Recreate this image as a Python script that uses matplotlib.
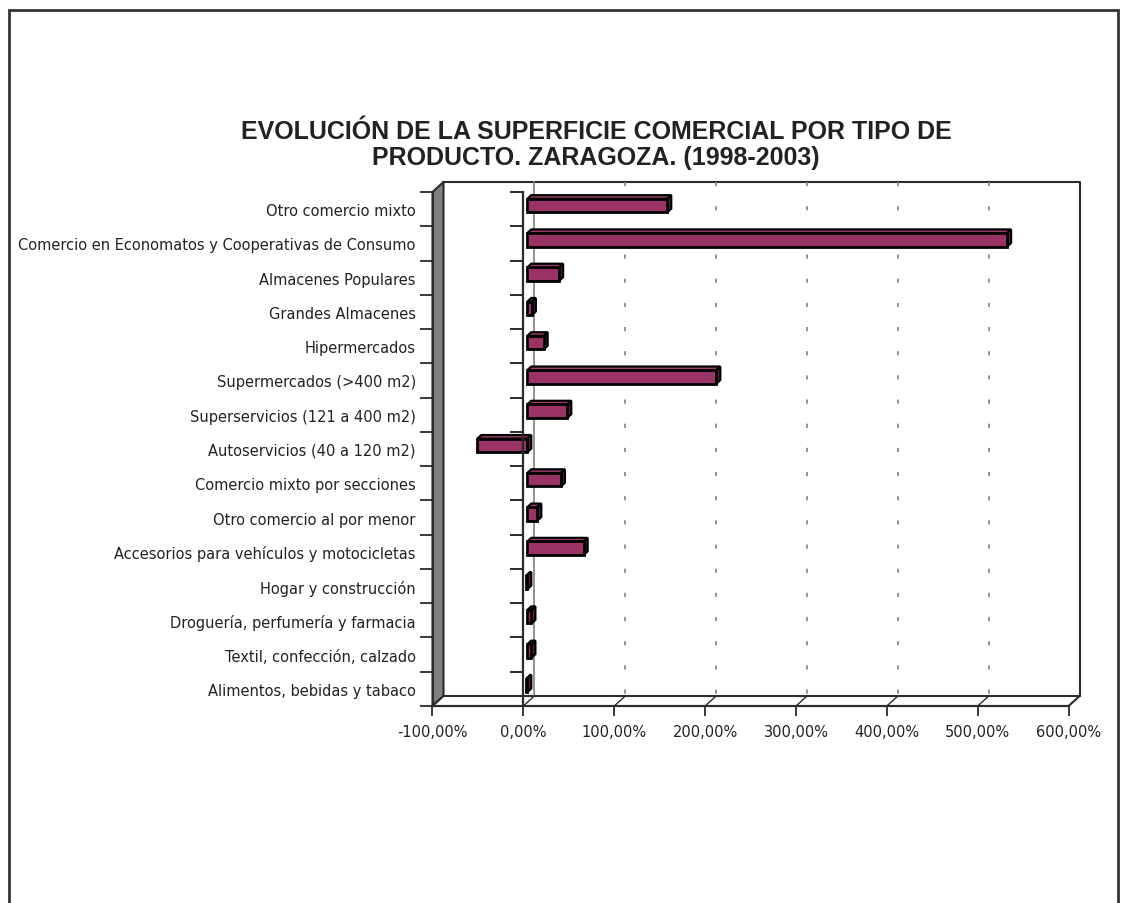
import numpy as np
import matplotlib.pyplot as plt
from matplotlib.patches import Polygon, Rectangle

# Variación de la superficie comercial 1998-2003 (%)
categorias = [
    "Otro comercio mixto",
    "Comercio en Economatos y Cooperativas de Consumo",
    "Almacenes Populares",
    "Grandes Almacenes",
    "Hipermercados",
    "Supermercados (>400 m2)",
    "Superservicios (121 a 400 m2)",
    "Autoservicios (40 a 120 m2)",
    "Comercio mixto por secciones",
    "Otro comercio al por menor",
    "Accesorios para vehículos y motocicletas",
    "Hogar y construcción",
    "Droguería, perfumería y farmacia",
    "Textil, confección, calzado",
    "Alimentos, bebidas y tabaco",
]
variacion = [154, 528, 35, 5, 18, 208, 44, -55, 37, 11, 62, -1.5, 4.5, 4.5, -1]

ticks_x = [-100, 0, 100, 200, 300, 400, 500, 600]
etiquetas_x = ["-100,00%", "0,00%", "100,00%", "200,00%", "300,00%",
               "400,00%", "500,00%", "600,00%"]

titulo = ("EVOLUCIÓN DE LA SUPERFICIE COMERCIAL POR TIPO DE\n"
          "PRODUCTO. ZARAGOZA. (1998-2003)")

COL_FRENTE = "#993366"
COL_TECHO = "#a3406f"
COL_LADO = "#5c1f3d"
COL_PARED = "#808080"
COL_LINEA = "#2b2b2b"

W, H = 1122, 904
fig = plt.figure(figsize=(W / 100, H / 100), dpi=100)

# plano frontal del gráfico 3D (en píxeles)
x0, x1, y0, y1 = 432.5, 1068.6, 193, 707
ax = fig.add_axes([x0 / W, 1 - y1 / H, (x1 - x0) / W, (y1 - y0) / H])
n = len(categorias)
ax.set_xlim(-100, 600)
ax.set_ylim(n - 0.5, -0.5)
pos = np.arange(n)

# profundidad en unidades de datos
ux = 700 / (x1 - x0)
uy = n / (y1 - y0)
dx, dy = 11 * ux, -10 * uy
arriba, abajo = -0.5, n - 0.5

# pared izquierda
ax.add_patch(Polygon([(-100, arriba), (-100, abajo), (-100 + dx, abajo + dy),
                      (-100 + dx, arriba + dy)], closed=True,
                     facecolor=COL_PARED, edgecolor=COL_LINEA, lw=1.5,
                     clip_on=False, zorder=1))
# suelo
ax.add_patch(Polygon([(-100, abajo), (600, abajo), (600 + dx, abajo + dy),
                      (-100 + dx, abajo + dy)], closed=True,
                     facecolor="white", edgecolor=COL_LINEA, lw=1.5,
                     clip_on=False, zorder=1))
# pared del fondo
ax.plot([-100 + dx, 600 + dx, 600 + dx], [arriba + dy, arriba + dy, abajo + dy],
        color=COL_LINEA, lw=1.5, clip_on=False, zorder=1)

# líneas de división en el fondo y en el suelo
for t in ticks_x[1:-1]:
    ls = "-" if t == 0 else (0, (2.5, 12))
    ax.plot([t + dx, t + dx], [arriba + dy, abajo + dy], color=COL_PARED,
            lw=1.2, ls=ls, clip_on=False, zorder=1.5)
    ax.plot([t, t + dx], [abajo, abajo + dy], color=COL_LINEA, lw=1,
            clip_on=False, zorder=1.5)

# barras en 3D: techo y lateral como polígonos, frente con barh
alto = 13.5 * uy
p1, p2 = 0.36, 0.72
bx, by = p1 * dx, p1 * dy
ex, ey = (p2 - p1) * dx, (p2 - p1) * dy
for y, v in zip(pos, variacion):
    izq, der = min(0, v) + bx, max(0, v) + bx
    sup, inf = y - alto / 2 + by, y + alto / 2 + by
    ax.add_patch(Polygon([(izq, sup), (der, sup), (der + ex, sup + ey),
                          (izq + ex, sup + ey)], closed=True,
                         facecolor=COL_TECHO, edgecolor="black", lw=1.6,
                         clip_on=False, zorder=3))
    ax.add_patch(Polygon([(der, sup), (der, inf), (der + ex, inf + ey),
                          (der + ex, sup + ey)], closed=True,
                         facecolor=COL_LADO, edgecolor="black", lw=1.6,
                         clip_on=False, zorder=3))
ax.barh(pos + by, variacion, height=alto, left=bx, color=COL_FRENTE,
        edgecolor="black", lw=2, zorder=4, clip_on=False)

# eje de categorías en 0
limites = np.arange(n + 1) - 0.5
ax.plot([0, 0], [arriba, abajo], color=COL_LINEA, lw=1.6, clip_on=False, zorder=5)
ax.hlines(limites, -13 * ux, 0, color=COL_LINEA, lw=1.4, clip_on=False, zorder=5)

# ejes
for s in ["top", "right"]:
    ax.spines[s].set_visible(False)
ax.spines["left"].set_color(COL_LINEA)
ax.spines["bottom"].set_color(COL_LINEA)
ax.spines["left"].set_linewidth(1.5)
ax.spines["bottom"].set_linewidth(1.5)
ax.set_facecolor("none")

ax.set_yticks(limites)
ax.set_yticklabels([])
ax.set_yticks(pos, minor=True)
ax.set_yticklabels(categorias, minor=True, fontsize=10.5, color="#222222")
ax.tick_params(axis="y", which="major", length=9.5, width=1.3, color=COL_LINEA)
ax.tick_params(axis="y", which="minor", length=0, pad=12)

ax.set_xticks(ticks_x)
ax.set_xticklabels(etiquetas_x, fontsize=10.5, color="#222222")
ax.tick_params(axis="x", length=7, width=1.3, color=COL_LINEA, pad=6)

fig.text(596 / W, 1 - 145 / H, titulo, ha="center", va="center",
         fontsize=18, fontweight="bold", family="Liberation Sans",
         color="#222222", linespacing=1.15)

# marco exterior
fig.patches.append(Rectangle((9 / W, -0.05), (1118 - 9) / W, 1.05 - 10.5 / H,
                             transform=fig.transFigure, fill=False,
                             edgecolor="#333333", lw=2))

fig.savefig("out.png", dpi=100, facecolor="white")
